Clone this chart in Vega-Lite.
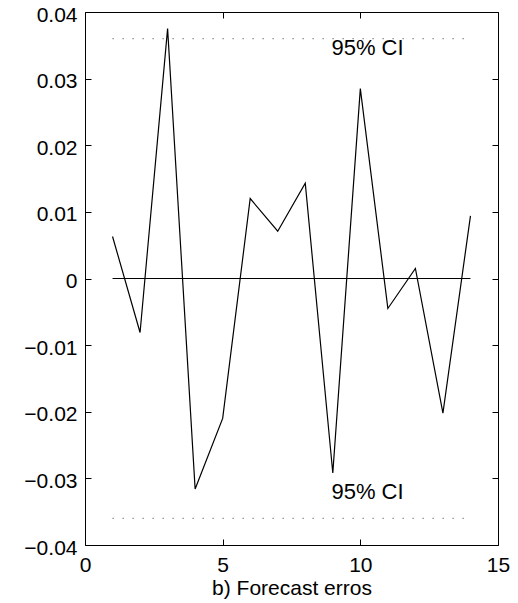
{
  "$schema": "https://vega.github.io/schema/vega-lite/v6.json",
  "width": 413,
  "height": 533,
  "autosize": "none",
  "padding": {"left": 85, "top": 12, "right": 20, "bottom": 58},
  "background": "white",
  "config": {
    "view": {"stroke": "black", "strokeWidth": 1},
    "font": "Liberation Sans",
    "axis": {
      "domain": false,
      "grid": false,
      "tickColor": "black",
      "tickSize": -6,
      "labelFont": "Liberation Sans",
      "labelFontSize": 21,
      "labelColor": "black",
      "titleFont": "Liberation Sans",
      "titleFontSize": 21,
      "titleFontWeight": "normal",
      "titleColor": "black"
    }
  },
  "resolve": {"axis": {"x": "independent", "y": "independent"}},
  "layer": [
    {
      "data": {"values": [
        {"k": 1, "err": 0.0063},
        {"k": 2, "err": -0.0081},
        {"k": 3, "err": 0.0375},
        {"k": 4, "err": -0.0316},
        {"k": 5, "err": -0.0210},
        {"k": 6, "err": 0.0120},
        {"k": 7, "err": 0.0071},
        {"k": 8, "err": 0.0143},
        {"k": 9, "err": -0.0292},
        {"k": 10, "err": 0.0285},
        {"k": 11, "err": -0.0045},
        {"k": 12, "err": 0.0015},
        {"k": 13, "err": -0.0202},
        {"k": 14, "err": 0.0094}
      ]},
      "mark": {"type": "line", "color": "black", "strokeWidth": 1.2},
      "encoding": {
        "x": {"field": "k", "type": "quantitative",
              "scale": {"domain": [0, 15], "nice": false, "zero": false},
              "axis": {"orient": "bottom", "values": [0, 5, 10, 15], "labelPadding": 15,
                       "title": "b) Forecast erros", "titlePadding": 2, "labelFlush": false}},
        "y": {"field": "err", "type": "quantitative",
              "scale": {"domain": [-0.04, 0.04], "nice": false},
              "axis": {"orient": "left", "values": [-0.04, -0.03, -0.02, -0.01, 0, 0.01, 0.02, 0.03, 0.04],
                       "format": ".2~f", "labelPadding": 14, "labelOffset": 3, "title": null, "labelFlush": false}}
      }
    },
    {
      "data": {"values": [
        {"k": 1, "v": 0, "s": "zero"},
        {"k": 14, "v": 0, "s": "zero"}
      ]},
      "mark": {"type": "line", "color": "black", "strokeWidth": 1},
      "encoding": {
        "x": {"field": "k", "type": "quantitative",
              "axis": {"orient": "top", "values": [0, 5, 10, 15], "labels": false, "title": null}},
        "y": {"field": "v", "type": "quantitative",
              "axis": {"orient": "right", "values": [-0.04, -0.03, -0.02, -0.01, 0, 0.01, 0.02, 0.03, 0.04], "labels": false, "title": null}}
      }
    },
    {
      "data": {"values": [
        {"k": 1, "v": 0.036, "s": "upper"},
        {"k": 14, "v": 0.036, "s": "upper"},
        {"k": 1, "v": -0.036, "s": "lower"},
        {"k": 14, "v": -0.036, "s": "lower"}
      ]},
      "mark": {"type": "line", "color": "#777777", "strokeWidth": 1.2, "strokeDash": [1.2, 8.8]},
      "encoding": {
        "x": {"field": "k", "type": "quantitative", "axis": null},
        "y": {"field": "v", "type": "quantitative", "axis": null},
        "detail": {"field": "s"}
      }
    },
    {
      "data": {"values": [
        {"k": 10.26, "v": 0.0346, "label": "95% CI"},
        {"k": 10.26, "v": -0.032, "label": "95% CI"}
      ]},
      "mark": {"type": "text", "font": "Liberation Sans", "fontSize": 22, "color": "black", "align": "center", "baseline": "middle"},
      "encoding": {
        "x": {"field": "k", "type": "quantitative", "axis": null},
        "y": {"field": "v", "type": "quantitative", "axis": null},
        "text": {"field": "label"}
      }
    }
  ]
}
